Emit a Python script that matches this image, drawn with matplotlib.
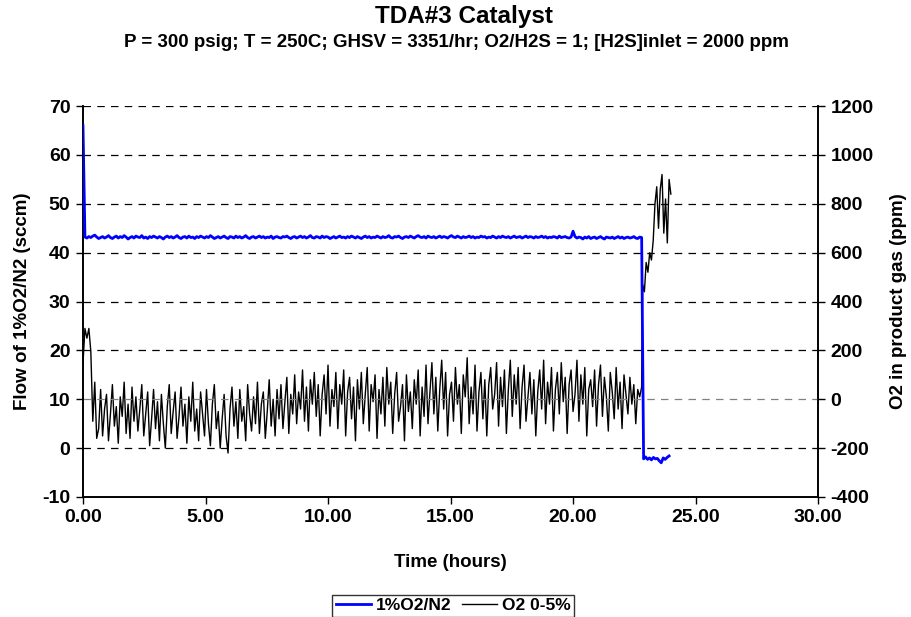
import numpy as np
import matplotlib.pyplot as plt

plt.rcParams['font.family'] = ['Liberation Sans', 'DejaVu Sans']
plt.rcParams['font.weight'] = 'bold'
plt.rcParams['axes.unicode_minus'] = False

# sample spacing of the logger (hours)
dt = 0.08

# O2 in product gas (ppm), right axis
o2_ppm = [
    150, 290, 250, 290, 195, -90, 70, -160, -120, 40,
    -150, -40, 20, -170, -60, 60, -110, -30, -180, 10,
    -70, 70, -140, -20, -160, 50, -90, 10, -130, -40,
    60, -150, -60, 30, -190, -80, 40, -120, -10, -170,
    20, -100, -200, -30, 60, -140, -50, 30, -160, -70,
    50, -110, -20, -180, 10, -90, 70, -130, -40, -170,
    30, -60, -150, 40, -100, -190, -20, 60, -120, -50,
    -200, -80, 20, -150, -220, -40, 50, -110, -10, -160,
    40, -90, -30, -170, 60, -60, -130, 10, -100, 70,
    -140, -20, 30, -160, -50, 80, -110, 0, -150, 40,
    -80, 60, -120, -10, 90, -140, 20, -60, 100, -100,
    30, -40, 120, -90, 50, -130, 80, -20, 110, -70,
    60, -150, 20, 100, -60, 140, -110, 40, -30, 110,
    -120, 60, -20, 120, -150, 30, 90, -80, 50, -170,
    80, -40, 110, -100, 20, 130, -130, 60, -10, 100,
    -160, 40, -60, 90, -110, 130, -20, 70, -140, 20,
    110, -90, -30, 60, -170, 100, -50, 30, -120, 80,
    -20, 120, -150, 50, -70, 140, -100, 30, 150, -60,
    90, -130, 40, 160, -40, 110, -150, 20, 70, -90,
    130, -20, 60, -140, 100, 10, 170, -100, 50, -60,
    140, -130, 30, 110, -80, 80, -150, 60, 130, -40,
    20, 150, -110, 90, -30, 120, -140, 40, 160, -70,
    100, -20, 130, -120, 50, 140, -90, 10, 110, -60,
    80, -150, 30, 120, -40, 160, -100, 70, -20, 130,
    -130, 40, 110, -60, 150, -10, 90, -140, 60, 120,
    -50, 20, 160, -90, 100, -20, 130, -150, 40, 80,
    -30, 120, -110, 60, 140, -70, 90, 10, -130, 110,
    30, -80, 130, -40, 70, -120, 100, 20, -60, 90,
    -20, 60, -100, 40, 10, 50, 470, 440, 560, 520,
    600, 570, 650, 800, 870, 700, 860, 920, 680, 820,
    640, 900, 840,
]

# flow of 1%O2/N2 (sccm), left axis
o2n2_flow = [
    66.0, 43.2, 43.0, 43.3, 43.1, 43.4, 43.6, 43.2, 42.9, 43.1,
    43.3, 43.0, 43.2, 43.5, 43.1, 42.9, 43.2, 43.4, 43.0, 43.3,
    43.1, 43.5, 43.2, 42.8, 43.1, 43.3, 43.0, 43.4, 43.2, 43.1,
    43.5, 43.0, 43.2, 42.9, 43.3, 43.1, 43.4, 43.2, 43.0, 43.3,
    43.1, 42.8, 43.2, 43.4, 43.1, 43.3, 43.0, 43.2, 43.5, 43.1,
    42.9, 43.2, 43.3, 43.0, 43.4, 43.1, 43.2, 42.9, 43.3, 43.1,
    43.4, 43.2, 43.0, 43.3, 43.1, 43.5, 43.2, 42.9, 43.1, 43.3,
    43.0, 43.2, 43.4, 43.1, 42.9, 43.3, 43.2, 43.0, 43.4, 43.1,
    43.3, 43.0, 43.2, 43.5, 43.1, 42.9, 43.2, 43.3, 43.0, 43.2,
    43.4, 43.1, 43.3, 43.0, 43.2, 43.1, 43.4, 42.9, 43.2, 43.3,
    43.1, 43.0, 43.3, 43.2, 43.4, 43.1, 42.9, 43.2, 43.3, 43.0,
    43.2, 43.4, 43.1, 43.3, 43.0, 43.2, 43.5, 43.1, 43.0, 43.3,
    43.2, 43.0, 43.4, 43.1, 43.3, 43.2, 42.9, 43.1, 43.3, 43.0,
    43.2, 43.4, 43.1, 43.2, 43.0, 43.3, 43.1, 43.4, 43.2, 43.0,
    43.3, 43.1, 42.9, 43.2, 43.4, 43.1, 43.3, 43.0, 43.2, 43.1,
    43.4, 43.2, 43.0, 43.3, 43.1, 43.2, 43.5, 43.1, 43.0, 43.3,
    43.2, 43.4, 43.1, 42.9, 43.2, 43.3, 43.1, 43.4, 43.2, 43.0,
    43.3, 43.5, 43.2, 43.1, 43.3, 43.0, 43.4, 43.2, 43.1, 43.3,
    43.0, 43.2, 43.4, 43.1, 43.3, 43.2, 43.0, 43.3, 43.5, 43.2,
    43.1, 43.4, 43.2, 43.0, 43.3, 43.1, 43.2, 43.4, 43.1, 43.3,
    43.0, 43.2, 43.1, 43.4, 43.2, 43.3, 43.0, 43.2, 43.1, 43.4,
    43.2, 43.0, 43.3, 43.1, 43.4, 43.2, 43.1, 43.3, 43.0, 43.2,
    43.4, 43.1, 43.2, 43.3, 43.0, 43.2, 43.4, 43.1, 43.3, 43.2,
    43.0, 43.3, 43.1, 43.2, 43.4, 43.1, 43.3, 43.0, 43.2, 43.1,
    43.3, 43.2, 43.0, 43.4, 43.1, 43.2, 43.3, 43.1, 43.0, 43.2,
    44.4, 43.3, 43.0, 43.2, 43.1, 42.8, 43.2, 43.0, 43.3, 42.9,
    43.1, 43.2, 42.9, 43.1, 43.3, 43.0, 42.8, 43.2, 43.1, 43.0,
    43.2, 42.9, 43.1, 43.3, 43.0, 43.2, 42.9, 43.1, 43.2, 43.0,
    43.1, 43.3, 43.0, 42.9, 43.2, 43.1, -2.2, -1.8, -2.3, -2.0,
    -2.4, -1.9, -2.2, -2.1, -2.6, -3.0, -2.0, -2.3, -1.9, -1.6,
]

t_o2 = np.arange(len(o2_ppm)) * dt
t_o2[286:] = 22.84 + np.arange(len(o2_ppm) - 286) * 0.072
t_flow = np.arange(len(o2n2_flow)) * dt

fig = plt.figure(figsize=(9.12, 6.17), dpi=100)
ax = fig.add_axes([0.091, 0.1945, 0.806, 0.6335])
ax2 = ax.twinx()

# gridlines at the left-axis ticks
for y in range(0, 71, 10):
    ax.axhline(y, color="#808080" if y == 10 else "black", lw=0.9,
               ls=(0, (6, 5)), zorder=0)

line_o2, = ax2.plot(t_o2, o2_ppm, color="black", lw=1.0, zorder=2)
line_flow, = ax.plot(t_flow, o2n2_flow, color="#0000FF", lw=2.0, zorder=3)

ax.set_zorder(ax2.get_zorder() + 1)
ax.patch.set_visible(False)

ax.set_xlim(0, 30)
ax.set_ylim(-10, 70)
ax2.set_ylim(-400, 1200)
ax.set_xticks(np.arange(0, 31, 5))
ax.set_xticklabels([f"{v:.2f}" for v in np.arange(0, 31, 5)])
ax.set_yticks(range(-10, 71, 10))
ax2.set_yticks(range(-400, 1201, 200))

for a in (ax, ax2):
    a.spines["top"].set_visible(False)
    a.tick_params(labelsize=14, width=1, length=5, direction="out", pad=4)
    for s in a.spines.values():
        s.set_linewidth(1.2)

ax.set_xlabel("Time (hours)", fontsize=13.5, fontweight="bold", labelpad=20)
ax.set_ylabel("Flow of 1%O2/N2 (sccm)", fontsize=13.5, fontweight="bold", labelpad=8)
ax2.set_ylabel("O2 in product gas (ppm)", fontsize=13.5, fontweight="bold", labelpad=12)

fig.text(0.509, 0.974, "TDA#3 Catalyst", ha="center", va="center",
         fontsize=17.5, fontweight="bold")
fig.text(0.501, 0.931,
         "P = 300 psig; T = 250C; GHSV = 3351/hr; O2/H2S = 1; [H2S]inlet = 2000 ppm",
         ha="center", va="center", fontsize=13.5, fontweight="bold")

leg = fig.legend([line_flow, line_o2], ["1%O2/N2", "O2 0-5%"],
                 loc="lower center", bbox_to_anchor=(0.497, -0.014), ncol=2,
                 frameon=True, fancybox=False, edgecolor="black",
                 fontsize=12.5, handlelength=2.0, handletextpad=0.3,
                 columnspacing=0.6, borderpad=0.2)
leg.get_frame().set_linewidth(1.0)

fig.savefig("out.png", dpi=100)
